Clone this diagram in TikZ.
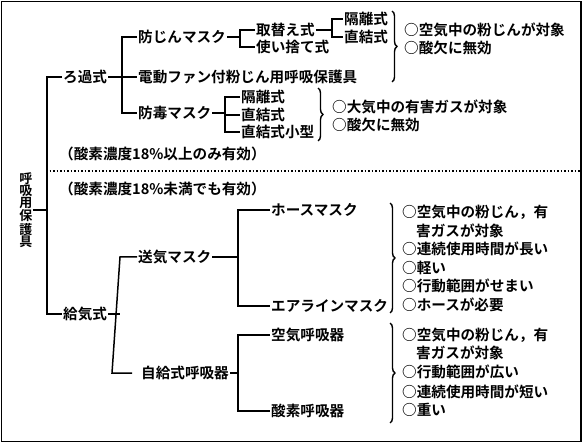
\documentclass[tikz,border=0pt]{standalone}
\usepackage{fontspec}
\setmainfont{Noto Sans CJK JP}[BoldFont=* Bold]
\usetikzlibrary{decorations.pathreplacing}
\newcommand{\jpf}{\fontsize{14.6}{16}\selectfont\bfseries}
\newcommand{\jps}{\fontsize{13}{12}\selectfont\bfseries}
\begin{document}
\begin{tikzpicture}[x=1pt,y=-1pt,
  lbl/.style={anchor=west,inner sep=1pt,font=\jpf},
  ln/.style={line width=1.5pt},
  bracestyle/.style={line width=1.4pt,decorate,decoration={brace,amplitude=5pt}}]
\useasboundingbox (0,0) rectangle (583,443);
\draw[line width=1.5pt] (1.5,1.5) rectangle (581,441.5);

% root
\node[font=\jps,align=center,inner sep=0pt] (root) at (26,210) {呼\\吸\\用\\保\\護\\具};
\coordinate (tr) at (46,210);

% filter branch
\node[lbl] (ro) at (62,77) {ろ過式};
\node[lbl] (kyuki) at (62,314) {給気式};
\node[lbl] (bojin) at (137,37) {防じんマスク};
\node[lbl] (dendo) at (137,77) {電動ファン付粉じん用呼吸保護具};
\node[lbl] (bodoku) at (137,113) {防毒マスク};
\node[lbl] (torikae) at (255,30) {取替え式};
\node[lbl] (tsukai) at (255,47) {使い捨て式};
\node[lbl] (kakuri1) at (343,19) {隔離式};
\node[lbl] (choku1) at (343,37) {直結式};
\node[lbl] (kakuri2) at (240,97) {隔離式};
\node[lbl] (choku2) at (240,115) {直結式};
\node[lbl] (kogata) at (240,132) {直結式小型};
\node[lbl] (n1a) at (403,30) {○空気中の粉じんが対象};
\node[lbl] (n1b) at (403,48) {○酸欠に無効};
\node[lbl] (n2a) at (331,107) {○大気中の有害ガスが対象};
\node[lbl] (n2b) at (331,125) {○酸欠に無効};
\node[lbl] (c1) at (58,154) {（酸素濃度18\%以上のみ有効）};
\node[lbl] (c2) at (58,189) {（酸素濃度18\%未満でも有効）};

% supplied-air branch
\node[lbl] (soki) at (137,257) {送気マスク};
\node[lbl] (hose) at (270,210) {ホースマスク};
\node[lbl] (airline) at (270,306) {エアラインマスク};
\node[lbl] (jikyu) at (140,373) {自給式呼吸器};
\node[lbl] (kuki) at (270,335) {空気呼吸器};
\node[lbl] (sanso) at (270,411) {酸素呼吸器};
\node[lbl] (n3a) at (401,212) {○空気中の粉じん，有};
\node[lbl] (n3b) at (415,231) {害ガスが対象};
\node[lbl] (n3c) at (401,249) {○連続使用時間が長い};
\node[lbl] (n3d) at (401,268) {○軽い};
\node[lbl] (n3e) at (401,286) {○行動範囲がせまい};
\node[lbl] (n3f) at (401,305) {○ホースが必要};
\node[lbl] (n4a) at (401,335) {○空気中の粉じん，有};
\node[lbl] (n4b) at (415,353) {害ガスが対象};
\node[lbl] (n4c) at (401,372) {○行動範囲が広い};
\node[lbl] (n4d) at (401,392) {○連続使用時間が短い};
\node[lbl] (n4e) at (401,410) {○重い};

% junction coordinates
\coordinate (j0) at (47,0);
\coordinate (j1) at (122,0);
\coordinate (j2) at (240,0);
\coordinate (j3) at (332,0);
\coordinate (j4) at (225,0);
\coordinate (j5) at (238,0);
\coordinate (j6) at (120,0);
\coordinate (j7) at (238,0);

% connectors
\draw[ln] (root.east) -- (tr);
\draw[ln] (ro.west) -- (ro.west -| j0) -- (kyuki.west -| j0) -- (kyuki.west);

\draw[ln] (ro.east) -- (dendo.west);
\draw[ln] (bojin.west) -- (bojin.west -| j1) -- (bodoku.west -| j1) -- (bodoku.west);

\draw[ln] (bojin.east) -- (bojin.east -| j2);
\draw[ln] (torikae.west) -- (torikae.west -| j2) -- (tsukai.west -| j2) -- (tsukai.west);

\draw[ln] (torikae.east) -- (torikae.east -| j3);
\draw[ln] (kakuri1.west) -- (kakuri1.west -| j3) -- (choku1.west -| j3) -- (choku1.west);

\draw[ln] (bodoku.east) -- (bodoku.east -| j4);
\draw[ln] (kakuri2.west) -- (kakuri2.west -| j4) -- (kogata.west -| j4) -- (kogata.west);
\draw[ln] (choku2.west) -- (choku2.west -| j4);

\draw[ln] (kyuki.east) -- (kyuki.east -| j6);
\draw[ln] (soki.west) -- (soki.west -| j6) -- ([xshift=-8pt]jikyu.west -| j6) -- ([xshift=-8pt]jikyu.west);

\draw[ln] (soki.east) -- (soki.east -| j5);
\draw[ln] (hose.west) -- (hose.west -| j5) -- (airline.west -| j5) -- (airline.west);

\draw[ln] (jikyu.east) -- (jikyu.east -| j7);
\draw[ln] (kuki.west) -- (kuki.west -| j7) -- (sanso.west -| j7) -- (sanso.west);

% dotted separator
\draw[line width=1.2pt,dash pattern=on 1.5pt off 2pt] (tr |- 0,171) -- (581,171);

% braces
\draw[bracestyle] (392,11) -- (392,82);
\draw[bracestyle] (318,88) -- (318,141);
\draw[bracestyle] (390,203) -- (390,313);
\draw[bracestyle] (390,323) -- (390,423);
\end{tikzpicture}
\end{document}
